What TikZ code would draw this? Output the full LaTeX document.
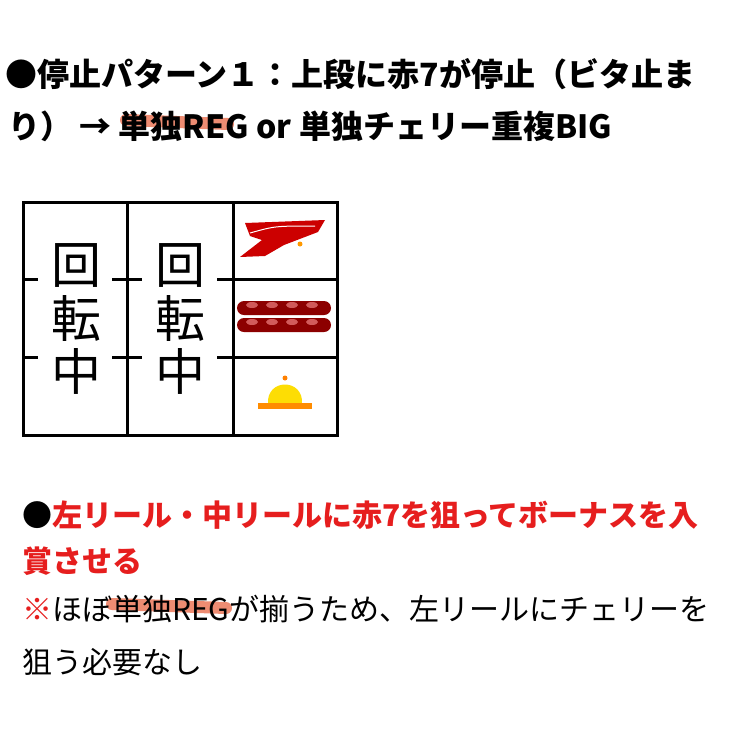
\documentclass[tikz,border=0pt]{standalone}
\usepackage{fontspec}
\newfontfamily\jp{Noto Sans CJK JP}
\definecolor{hl}{RGB}{236,120,90}
\definecolor{rd}{RGB}{230,30,30}
\tikzset{
 tline/.style={anchor=base west,inner sep=0pt,font=\jp\bfseries\fontsize{32}{32}\selectfont},
 rline/.style={anchor=base west,inner sep=0pt,font=\jp\bfseries\fontsize{30}{30}\selectfont,text=rd},
 nline/.style={anchor=base west,inner sep=0pt,font=\jp\fontsize{30}{30}\selectfont},
 grid/.style={line width=3pt},
 kan/.style={inner sep=0pt,font=\jp\fontsize{50}{50}\selectfont},
 hlmark/.style={line width=12pt,hl,opacity=0.85,line cap=round}
}
\begin{document}
\begin{tikzpicture}[x=1pt,y=1pt]
\fill[white] (0,0) rectangle (750,-732);
\useasboundingbox (0,0) rectangle (750,-732);
% highlights
\draw[hlmark] (126,-120) -- (228,-124);
\draw[hlmark] (112,-604) -- (226,-608);
\node[tline] (t1) at (5,-86) {●停止パターン１：上段に赤7が停止（ビタ止ま};
\node[tline] (t2) at (8,-138) {り） → 単独REG or 単独チェリー重複BIG};
% grid
\draw[grid] (23,-202) rectangle (337,-435);
\draw[grid] (127,-202) -- (127,-435);
\draw[grid] (233,-202) -- (233,-435);
\draw[grid] (233,-279) -- (337,-279);
\draw[grid] (233,-357) -- (337,-357);
\foreach \y in {-279,-357}{
 \draw[grid] (23,\y) -- (38,\y);
 \draw[grid] (112,\y) -- (142,\y);
 \draw[grid] (217,\y) -- (233,\y);
}
\node[kan] (a1) at (76,-265) {回};
\node[kan] (a2) at (76,-318) {転};
\node[kan] (a3) at (76,-371) {中};
\node[kan] (b1) at (180,-265) {回};
\node[kan] (b2) at (180,-318) {転};
\node[kan] (b3) at (180,-371) {中};
% seven
\fill[red!80!black] (245,-223) -- (325,-220) -- (318,-232) -- (284,-245) -- (265,-256) -- (240,-257) -- (262,-240) -- (250,-236) -- cycle;
\draw[white,line width=1pt] (250,-233) .. controls (275,-226) .. (315,-226);
\fill[orange!80!yellow] (300,-244) circle (2.5);
% cherries bar
\foreach \yy in {-308,-325}{
 \fill[red!55!black,rounded corners=7pt] (237,\yy-7) rectangle (331,\yy+7);
}
\foreach \xx in {252,272,292,312}{
 \fill[red!40!white,opacity=0.6] (\xx,-305) ellipse (6 and 3);
 \fill[red!40!white,opacity=0.6] (\xx,-322) ellipse (6 and 3);
}
% bell
\fill[yellow!80!orange] (268,-404) .. controls (266,-378) and (304,-378) .. (302,-404) -- cycle;
\fill[orange!90!yellow] (258,-403) rectangle (312,-409);
\fill[orange] (285,-378) circle (2.5);
% red text
\node[rline,text=black] (r1) at (22,-526) {●\textcolor{rd}{左リール・中リールに赤7を狙ってボーナスを入}};
\node[rline] (r2) at (22,-572) {賞させる};
\node[nline] (n1) at (22,-620) {\textcolor{rd}{※}ほぼ単独REGが揃うため、左リールにチェリーを};
\node[nline] (n2) at (22,-673) {狙う必要なし};
\end{tikzpicture}
\end{document}
